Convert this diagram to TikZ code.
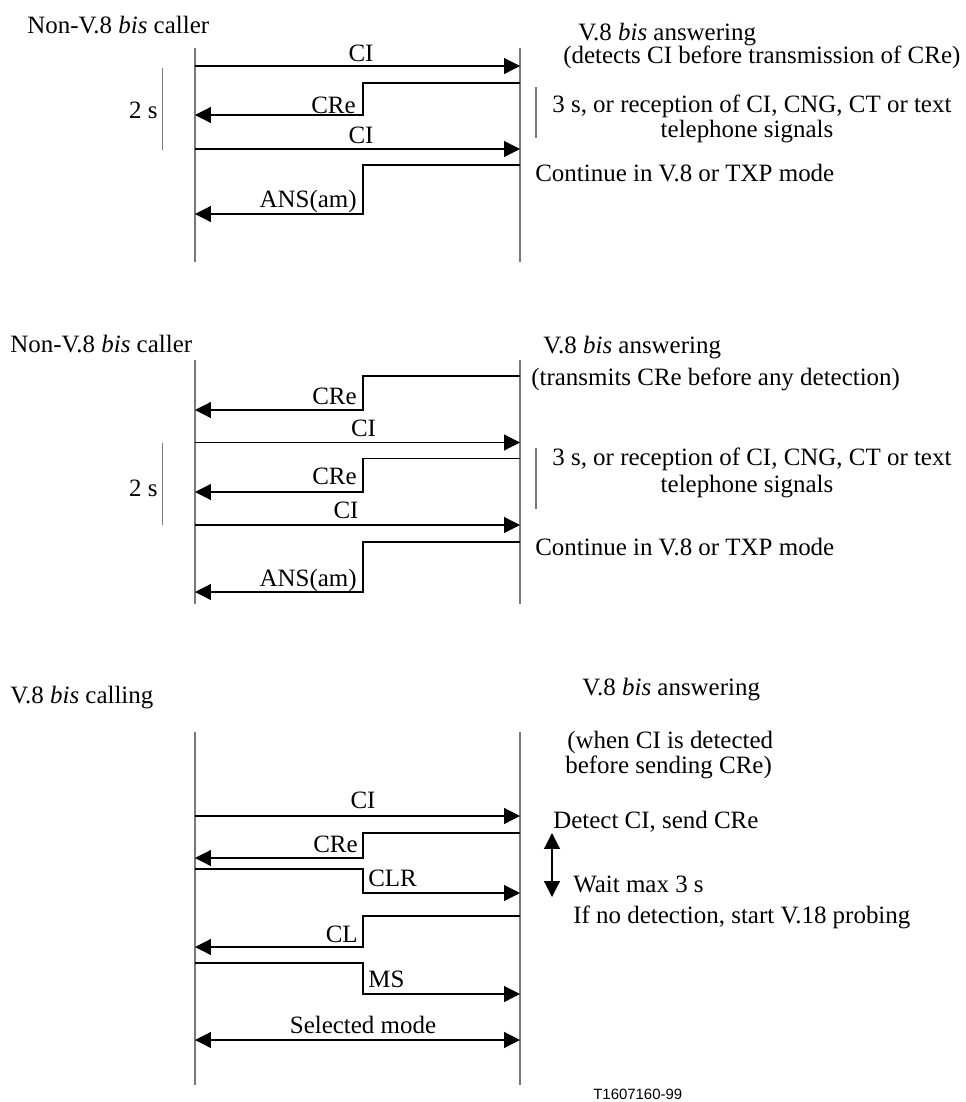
\documentclass[tikz,border=0pt]{standalone}
\usepackage{fontspec}
\setmainfont{Liberation Serif}
\newfontfamily\figsans{Liberation Sans}
\usetikzlibrary{arrows.meta, positioning, calc}
\definecolor{lifegray}{RGB}{120,120,120}

\begin{document}
\begin{tikzpicture}[x=0.02cm, y=-0.02cm,
    lifeline/.style={draw=lifegray, line width=0.9pt},
    timebar/.style={draw=lifegray, line width=0.7pt},
    msg/.style={draw=black, line width=0.7pt, -{Triangle[length=9pt, width=9pt]}},
    twoway/.style={msg, {Triangle[length=9pt, width=9pt]}-{Triangle[length=9pt, width=9pt]}},
    lbl/.style={font=\fontsize{14.2}{14.2}\selectfont, inner sep=0pt}]
    \useasboundingbox (0,0) rectangle (966,1102);

    % Lifelines of the three exchanges
    \foreach \s/\t/\b in {1/48/262, 2/360/604, 3/732/1085} {
        \coordinate (left\s top) at (195,\t);
        \coordinate (left\s bot) at (195,\b);
        \coordinate (right\s top) at (520,\t);
        \coordinate (right\s bot) at (520,\b);
        \draw[lifeline] (left\s top) -- (left\s bot);
        \draw[lifeline] (right\s top) -- (right\s bot);
    }

    % Message end points on both lifelines
    \foreach \m/\y in {ci1/66, cre1/83, cre1e/115, ci2/149, ans1/165, ans1e/214,
                       cre2/376, cre2e/410, ci3/442.5, cre3/458.6, cre3e/492, ci4/525, ans2/542, ans2e/592,
                       ci5/816, cre4/833, cre4e/858, clr/869, clre/893, cl/916, cle/947, ms/963, mse/994, sel/1040} {
        \coordinate (\m L) at (195,\y);
        \coordinate (\m R) at (520,\y);
    }
    \coordinate (mid) at (363,0);

    % First exchange
    \node[lbl, anchor=base west] (caller1) at (27,33) {Non-V.8 \textit{bis} caller};
    \node[lbl, anchor=base west] (answer1) at (578,40.5) {V.8 \textit{bis} answering};
    \node[lbl, anchor=base west] (cond1) at (563,63) {(detects CI before transmission of CRe)};
    \draw[msg] (ci1L) -- (ci1R);
    \node[lbl, anchor=base] (tci1) at (361,61.5) {CI};
    \draw[msg] (cre1R) -- (cre1R -| mid) |- (cre1eL);
    \node[lbl, anchor=base east] (tcre1) at (356,113) {CRe};
    \draw[msg] (ci2L) -- (ci2R);
    \node[lbl, anchor=base] (tci2) at (361,143) {CI};
    \draw[msg] (ans1R) -- (ans1R -| mid) |- (ans1eL);
    \node[lbl, anchor=base east] (tans1) at (357,207) {ANS(am)};
    \coordinate (bar1t) at (162.5,68);
    \coordinate (bar1b) at (162.5,150);
    \draw[timebar] (bar1t) -- (bar1b);
    \node[lbl, anchor=base east] (two1) at (158,118) {2 s};
    \coordinate (wait1t) at (536,87);
    \coordinate (wait1b) at (536,138);
    \draw[timebar] (wait1t) -- (wait1b);
    \node[lbl, anchor=base west] (wait1) at (552,112) {3 s, or reception of CI, CNG, CT or text};
    \node[lbl, anchor=base] (wait1x) at (747,137) {telephone signals};
    \node[lbl, anchor=base west] (cont1) at (535,181) {Continue in V.8 or TXP mode};

    % Second exchange
    \node[lbl, anchor=base west] (caller2) at (10,352.5) {Non-V.8 \textit{bis} caller};
    \node[lbl, anchor=base west] (answer2) at (543,353) {V.8 \textit{bis} answering};
    \node[lbl, anchor=base west] (cond2) at (531,385) {(transmits CRe before any detection)};
    \draw[msg] (cre2R) -- (cre2R -| mid) |- (cre2eL);
    \node[lbl, anchor=base east] (tcre2) at (357,404) {CRe};
    \draw[msg] (ci3L) -- (ci3R);
    \node[lbl, anchor=base] (tci3) at (363.5,436) {CI};
    \draw[msg] (cre3R) -- (cre3R -| mid) |- (cre3eL);
    \node[lbl, anchor=base east] (tcre3) at (357,484) {CRe};
    \draw[msg] (ci4L) -- (ci4R);
    \node[lbl, anchor=base] (tci4) at (346,518.6) {CI};
    \draw[msg] (ans2R) -- (ans2R -| mid) |- (ans2eL);
    \node[lbl, anchor=base east] (tans2) at (357,586) {ANS(am)};
    \coordinate (bar2t) at (162.5,443);
    \coordinate (bar2b) at (162.5,525);
    \draw[timebar] (bar2t) -- (bar2b);
    \node[lbl, anchor=base east] (two2) at (158,496.4) {2 s};
    \coordinate (wait2t) at (536,448);
    \coordinate (wait2b) at (536,509);
    \draw[timebar] (wait2t) -- (wait2b);
    \node[lbl, anchor=base west] (wait2) at (552,465) {3 s, or reception of CI, CNG, CT or text};
    \node[lbl, anchor=base] (wait2x) at (747,492) {telephone signals};
    \node[lbl, anchor=base west] (cont2) at (535,555) {Continue in V.8 or TXP mode};

    % Third exchange
    \node[lbl, anchor=base west] (caller3) at (10,703) {V.8 \textit{bis} calling};
    \node[lbl, anchor=base west] (answer3) at (582,695) {V.8 \textit{bis} answering};
    \node[lbl, anchor=base west] (cond3) at (567,748) {(when CI is detected};
    \node[lbl, anchor=base west] (cond3x) at (565,773) {before sending CRe)};
    \draw[msg] (ci5L) -- (ci5R);
    \node[lbl, anchor=base] (tci5) at (363,808) {CI};
    \draw[msg] (cre4R) -- (cre4R -| mid) |- (cre4eL);
    \node[lbl, anchor=base east] (tcre4) at (358,852) {CRe};
    \draw[msg] (clrL) -- (clrL -| mid) |- (clreR);
    \node[lbl, anchor=base west] (tclr) at (368,886) {CLR};
    \draw[msg] (clR) -- (clR -| mid) |- (cleL);
    \node[lbl, anchor=base east] (tcl) at (358,942) {CL};
    \draw[msg] (msL) -- (msL -| mid) |- (mseR);
    \node[lbl, anchor=base west] (tms) at (368,987) {MS};
    \draw[twoway] (selL) -- (selR);
    \node[lbl, anchor=base] (tsel) at (363,1033) {Selected mode};
    \node[lbl, anchor=base west] (detect) at (553,828) {Detect CI, send CRe};
    \coordinate (span3t) at (552,833);
    \coordinate (span3b) at (552,897);
    \draw[twoway] (span3t) -- (span3b);
    \node[lbl, anchor=base west] (wait3) at (573,892) {Wait max 3 s};
    \node[lbl, anchor=base west] (probe3) at (573,923) {If no detection, start V.18 probing};
    \node[font=\figsans\fontsize{8.5}{8.5}\selectfont, anchor=base west, inner sep=0pt] (figid) at (593,1099) {T1607160-99};
\end{tikzpicture}
\end{document}
